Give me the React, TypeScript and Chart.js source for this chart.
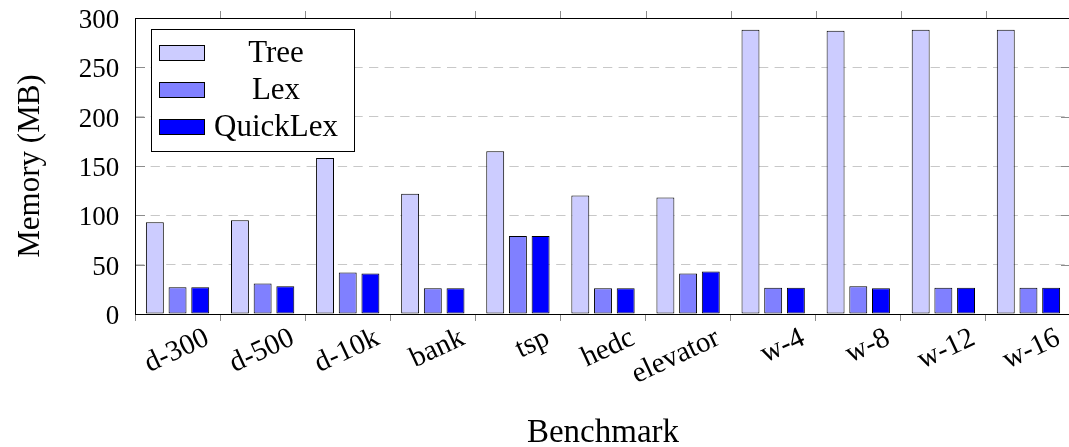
import React, { useEffect, useRef } from 'react';
import { Chart, registerables } from 'chart.js';

Chart.register(...registerables);

// ---- data ----
const categories = ['d-300', 'd-500', 'd-10k', 'bank', 'tsp', 'hedc', 'elevator', 'w-4', 'w-8', 'w-12', 'w-16'];
const treeValues = [93, 95, 158, 122, 165, 120, 118, 288, 287, 288, 288];
const lexValues = [27, 31, 42, 26, 79, 26, 41, 26.5, 28, 26.5, 26.5];
const quickLexValues = [27, 28, 41, 26, 79, 26, 43, 26.5, 26, 26.5, 26.5];
const seriesNames = ['Tree', 'Lex', 'QuickLex'];
const seriesColors = ['#ccccff', '#8080ff', '#0000ff'];
const yMin = 0;
const yMax = 300;
const yStep = 50;
const xTitle = 'Benchmark';
const yTitle = 'Memory (MB)';

const FONT = '"Liberation Serif", "Times New Roman", serif';

const pgfPlugin = {
  id: 'pgfFrame',
  afterDraw(chart: any) {
    const { ctx, chartArea: a, scales } = chart;
    const x = scales.x;
    const y = scales.y;
    ctx.save();
    // inward y ticks, outward top x ticks
    ctx.strokeStyle = '#8c8c8c';
    ctx.lineWidth = 1;
    ctx.beginPath();
    y.ticks.forEach((_t: any, i: number) => {
      const py = Math.round(y.getPixelForTick(i)) + 0.5;
      ctx.moveTo(a.left, py);
      ctx.lineTo(a.left + 10, py);
      ctx.moveTo(a.right, py);
      ctx.lineTo(a.right - 10, py);
    });
    for (let i = 1; i < x.ticks.length; i++) {
      const px = Math.round((x.getPixelForTick(i - 1) + x.getPixelForTick(i)) / 2) + 0.5;
      ctx.moveTo(px, a.top);
      ctx.lineTo(px, a.top - 7);
    }
    ctx.stroke();
    // frame
    ctx.strokeStyle = '#000';
    ctx.strokeRect(Math.round(a.left) + 0.5, Math.round(a.top) + 0.5, Math.round(a.right - a.left), Math.round(a.bottom - a.top));
    // legend
    const lx = Math.round(a.left) + 16;
    const ly = Math.round(a.top) + 11;
    const lw = 203;
    const lh = 122;
    ctx.fillStyle = '#fff';
    ctx.fillRect(lx, ly, lw, lh);
    ctx.strokeStyle = '#000';
    ctx.strokeRect(lx + 0.5, ly + 0.5, lw, lh);
    chart.data.datasets.forEach((ds: any, i: number) => {
      const cy = ly + 24 + i * 37;
      ctx.fillStyle = ds.backgroundColor;
      ctx.fillRect(lx + 8, Math.round(cy - 8), 46, 16);
      ctx.strokeStyle = '#000';
      ctx.strokeRect(lx + 8.5, Math.round(cy - 8) + 0.5, 45, 15);
      ctx.fillStyle = '#000';
      ctx.font = `31px ${FONT}`;
      ctx.textAlign = 'center';
      ctx.textBaseline = 'alphabetic';
      ctx.fillText(ds.label, lx + 125, cy + 9);
    });
    ctx.restore();
  },
};

export default function App() {
  const ref = useRef<HTMLCanvasElement | null>(null);
  useEffect(() => {
    if (!ref.current) return;
    const seriesData = [treeValues, lexValues, quickLexValues];
    const chart = new Chart(ref.current, {
      type: 'bar',
      data: {
        labels: categories,
        datasets: seriesNames.map((name, i) => ({
          label: name,
          data: seriesData[i],
          backgroundColor: seriesColors[i],
          borderColor: '#000',
          borderWidth: 1,
          borderSkipped: false,
          categoryPercentage: 0.8,
          barPercentage: 0.79,
        })),
      },
      options: {
        responsive: false,
        animation: false,
        layout: { padding: { top: 18, right: 9, left: 0, bottom: 0 } },
        plugins: { legend: { display: false }, tooltip: { enabled: false } },
        scales: {
          x: {
            type: 'category',
            offset: true,
            grid: { display: true, offset: true, drawOnChartArea: false, drawTicks: true, tickLength: 7, color: '#8c8c8c', lineWidth: 1 },
            border: { display: false },
            ticks: {
              autoSkip: false,
              minRotation: 25,
              maxRotation: 25,
              labelOffset: 30,
              padding: 0,
              color: '#000',
              font: { family: FONT, size: 29 },
            },
            title: {
              display: true,
              text: xTitle,
              color: '#000',
              font: { family: FONT, size: 33, lineHeight: 0.8 },
              padding: { top: 0, bottom: 0 },
            },
            afterFit: (s: any) => {
              s.height = 133;
              s.paddingLeft = 0;
              s.paddingRight = 0;
            },
          },
          y: {
            min: yMin,
            max: yMax,
            ticks: { stepSize: yStep, padding: 15.7, labelOffset: 3, color: '#000', font: { family: FONT, size: 27 } },
            grid: { color: '#c8c8c8', lineWidth: 1, drawTicks: false },
            border: { display: false, dash: [9.3, 6.3] },
            title: {
              display: true,
              text: yTitle,
              color: '#000',
              font: { family: FONT, size: 31, lineHeight: 1.2 },
              padding: { top: 12.5, bottom: 0 },
            },
            afterFit: (s: any) => {
              s.width = 135;
              s.paddingTop = 0;
              s.paddingBottom = 0;
            },
          },
        },
      },
      plugins: [pgfPlugin],
    } as any);
    return () => chart.destroy();
  }, []);
  return (
    <div style={{ position: 'absolute', left: 0, top: 0, width: 1069, height: 447, overflow: 'hidden', background: '#fff' }}>
      <div style={{ width: 1080, height: 447 }}>
        <canvas ref={ref} width={1080} height={447} style={{ width: 1080, height: 447, display: 'block' }} />
      </div>
    </div>
  );
}
